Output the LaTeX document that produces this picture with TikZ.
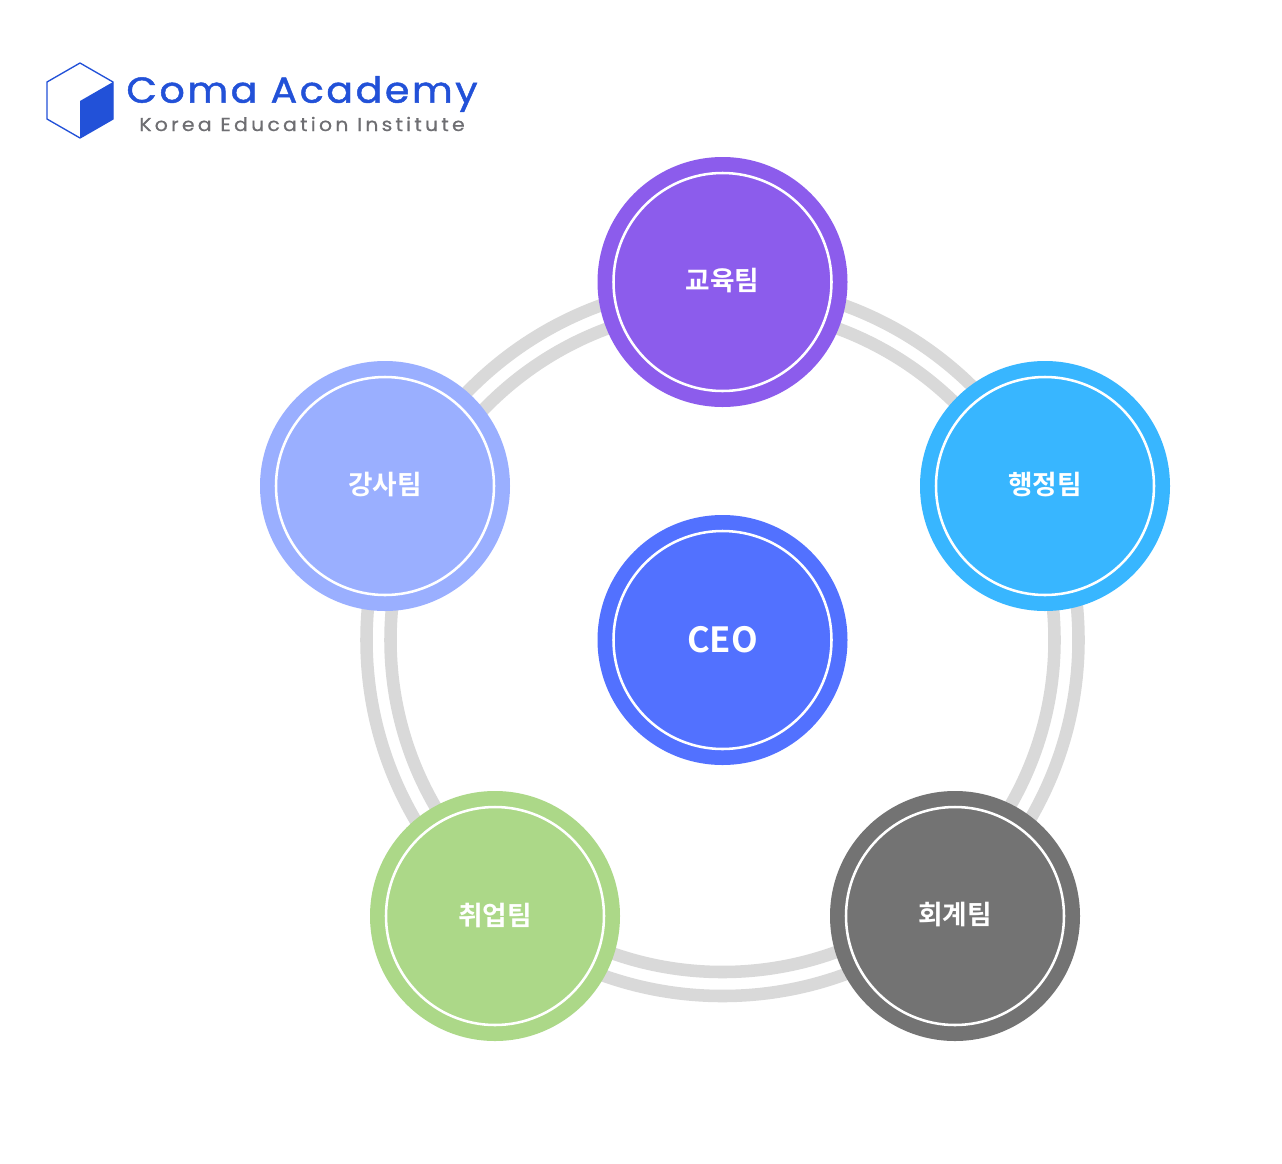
\documentclass[tikz,border=0pt]{standalone}
\usepackage{fontspec}
\setmainfont{Noto Sans}
\newfontfamily\kr{Noto Sans CJK KR}[BoldFont={Noto Sans CJK KR Bold}]
\newfontfamily\logofont[LetterSpace=7,FakeStretch=1.1,FakeBold=1.3]{Poppins}
\newfontfamily\subfont[LetterSpace=17,FakeStretch=1.1,FakeBold=0.6]{Poppins}
\definecolor{ringgray}{HTML}{D9D9D9}
\definecolor{cPurple}{HTML}{8C5CEC}
\definecolor{cSky}{HTML}{38B6FF}
\definecolor{cGray}{HTML}{737373}
\definecolor{cGreen}{HTML}{ACD888}
\definecolor{cPeri}{HTML}{9AAFFF}
\definecolor{cBlue}{HTML}{5271FF}
\definecolor{logoblue}{HTML}{2251D8}
\definecolor{logogray}{HTML}{6E6E72}
\tikzset{
  pxu/.style={x=0.75pt,y=-0.75pt},
  ringline/.style={draw=ringgray,line width=9.4pt},
  teamdisc/.style={circle,draw=none,minimum size=187.5pt,inner sep=0pt,outer sep=0pt},
  innerline/.style={draw=white,line width=1.9pt},
  teamlabel/.style={text=white,font=\kr\bfseries\fontsize{20pt}{24pt}\selectfont,yshift=0.75pt},
  ceolabel/.style={text=white,font=\kr\bfseries\fontsize{26pt}{30pt}\selectfont},
}
\newcommand{\teamcircle}[5]{%
  \node[teamdisc,fill=#3] (#1) at (#2) {};
  \draw[innerline] (#1.center) circle[radius=109];
  \node[#5] (#1label) at (#1.center) {#4};
}
\begin{document}
\begin{tikzpicture}[pxu]
\useasboundingbox (0,0) rectangle (1282,1164);
\fill[white] (0,0) rectangle (1282,1164);
% rings
\coordinate (hub) at (722.5,640);
\draw[ringline] (hub) circle[radius=356];
\draw[ringline] (hub) circle[radius=332];
% discs
\teamcircle{edu}{722.5,282}{cPurple}{교육팀}{teamlabel}
\teamcircle{admin}{1045,486}{cSky}{행정팀}{teamlabel}
\teamcircle{acct}{955,916}{cGray}{회계팀}{teamlabel}
\teamcircle{job}{495,916}{cGreen}{취업팀}{teamlabel}
\teamcircle{lect}{385,486}{cPeri}{강사팀}{teamlabel}
\teamcircle{ceo}{722.5,640}{cBlue}{CEO}{ceolabel}
% logo
\draw[logoblue,line width=1pt,line join=round] (80,63) -- (113,82) -- (113,119) -- (80,138) -- (47,119) -- (47,82) -- cycle;
\fill[logoblue] (113,82) -- (113,119) -- (80,138) -- (80,101) -- cycle;
\node[anchor=center,text=logoblue,font=\logofont\fontsize{27pt}{32pt}\selectfont,inner sep=0pt] (logotitle) at (302,94) {Coma Academy};
\node[anchor=center,text=logogray,font=\subfont\fontsize{14pt}{17pt}\selectfont,inner sep=0pt] (logosub) at (302,124) {Korea Education Institute};
\end{tikzpicture}
\end{document}
